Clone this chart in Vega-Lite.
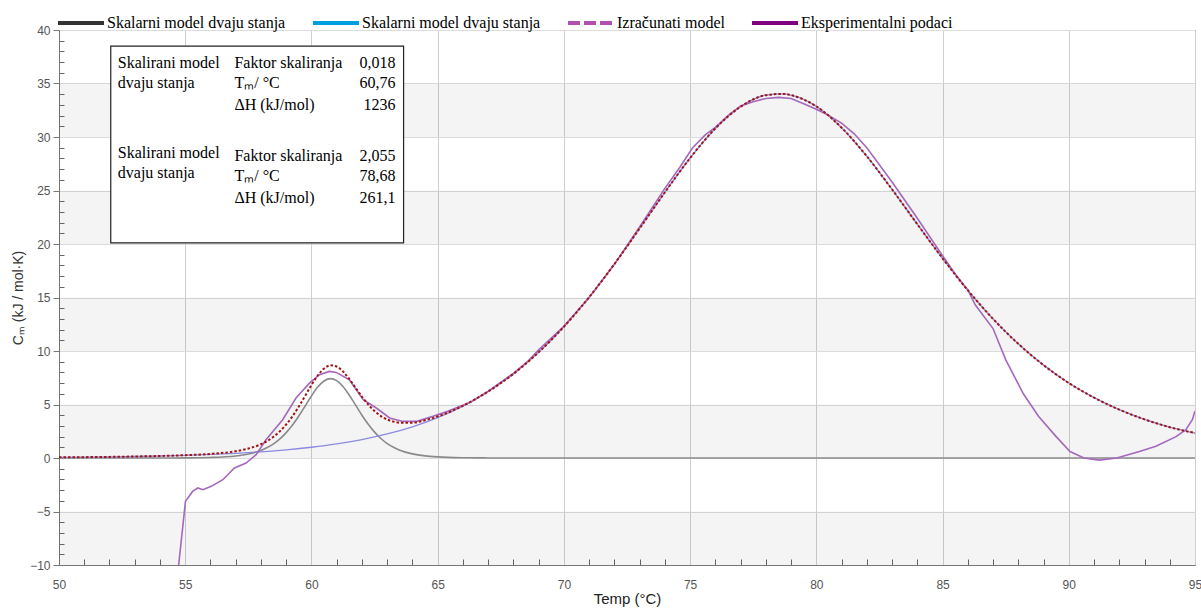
{
  "$schema": "https://vega.github.io/schema/vega-lite/v6.json",
  "width": 1136,
  "height": 535,
  "autosize": {"type": "none"},
  "padding": {"left": 59, "top": 30, "right": 6, "bottom": 43},
  "background": "white",
  "config": {
    "view": {"stroke": "#9a9a9a", "strokeWidth": 1},
    "axis": {"labelFont": "Liberation Sans", "titleFont": "Liberation Sans"}
  },
  "datasets": {
    "bands": [
      {"t": 50, "t2": 95, "c": -10, "c2": -5},
      {"t": 50, "t2": 95, "c": 0, "c2": 5},
      {"t": 50, "t2": 95, "c": 10, "c2": 15},
      {"t": 50, "t2": 95, "c": 20, "c2": 25},
      {"t": 50, "t2": 95, "c": 30, "c2": 35}
    ],
    "box": [{"t": 52.05, "t2": 63.65, "c": 38.5, "c2": 20.1}],
    "labels": [
      {"col": "l", "t": 52.33, "c": 36.92, "label": "Skalirani model"},
      {"col": "l", "t": 52.33, "c": 35.05, "label": "dvaju stanja"},
      {"col": "l", "t": 56.95, "c": 36.92, "label": "Faktor skaliranja"},
      {"col": "l", "t": 56.95, "c": 35.05, "label": "Tₘ/ °C"},
      {"col": "l", "t": 56.95, "c": 33.02, "label": "ΔH (kJ/mol)"},
      {"col": "l", "t": 52.33, "c": 28.5, "label": "Skalirani model"},
      {"col": "l", "t": 52.33, "c": 26.64, "label": "dvaju stanja"},
      {"col": "l", "t": 56.95, "c": 28.18, "label": "Faktor skaliranja"},
      {"col": "l", "t": 56.95, "c": 26.33, "label": "Tₘ/ °C"},
      {"col": "l", "t": 56.95, "c": 24.3, "label": "ΔH (kJ/mol)"},
      {"col": "r", "t": 63.33, "c": 36.92, "label": "0,018"},
      {"col": "r", "t": 63.33, "c": 35.05, "label": "60,76"},
      {"col": "r", "t": 63.33, "c": 33.02, "label": "1236"},
      {"col": "r", "t": 63.33, "c": 28.18, "label": "2,055"},
      {"col": "r", "t": 63.33, "c": 26.33, "label": "78,68"},
      {"col": "r", "t": 63.33, "c": 24.3, "label": "261,1"}
    ],
    "curves": [
      {"s": "model1", "t": 50, "c": 0},
      {"s": "model1", "t": 52, "c": 0},
      {"s": "model1", "t": 54, "c": 0.004},
      {"s": "model1", "t": 55, "c": 0.014},
      {"s": "model1", "t": 56, "c": 0.052},
      {"s": "model1", "t": 57, "c": 0.194},
      {"s": "model1", "t": 57.5, "c": 0.375},
      {"s": "model1", "t": 58, "c": 0.711},
      {"s": "model1", "t": 58.25, "c": 0.978},
      {"s": "model1", "t": 58.5, "c": 1.32},
      {"s": "model1", "t": 58.75, "c": 1.78},
      {"s": "model1", "t": 59, "c": 2.37},
      {"s": "model1", "t": 59.25, "c": 3.08},
      {"s": "model1", "t": 59.5, "c": 3.93},
      {"s": "model1", "t": 59.75, "c": 4.86},
      {"s": "model1", "t": 60, "c": 5.8},
      {"s": "model1", "t": 60.25, "c": 6.63},
      {"s": "model1", "t": 60.5, "c": 7.2},
      {"s": "model1", "t": 60.76, "c": 7.42},
      {"s": "model1", "t": 61, "c": 7.23},
      {"s": "model1", "t": 61.25, "c": 6.68},
      {"s": "model1", "t": 61.5, "c": 5.87},
      {"s": "model1", "t": 61.75, "c": 4.94},
      {"s": "model1", "t": 62, "c": 4.0},
      {"s": "model1", "t": 62.25, "c": 3.15},
      {"s": "model1", "t": 62.5, "c": 2.42},
      {"s": "model1", "t": 62.75, "c": 1.82},
      {"s": "model1", "t": 63, "c": 1.35},
      {"s": "model1", "t": 63.25, "c": 1.0},
      {"s": "model1", "t": 63.5, "c": 0.73},
      {"s": "model1", "t": 64, "c": 0.385},
      {"s": "model1", "t": 64.5, "c": 0.2},
      {"s": "model1", "t": 65, "c": 0.103},
      {"s": "model1", "t": 66, "c": 0.027},
      {"s": "model1", "t": 67, "c": 0.007},
      {"s": "model1", "t": 68, "c": 0},
      {"s": "model1", "t": 70, "c": 0},
      {"s": "model1", "t": 75, "c": 0},
      {"s": "model1", "t": 80, "c": 0},
      {"s": "model1", "t": 85, "c": 0},
      {"s": "model1", "t": 90, "c": 0},
      {"s": "model1", "t": 95, "c": 0},

      {"s": "model2", "t": 50, "c": 0.059},
      {"s": "model2", "t": 51, "c": 0.08},
      {"s": "model2", "t": 52, "c": 0.105},
      {"s": "model2", "t": 53, "c": 0.14},
      {"s": "model2", "t": 54, "c": 0.187},
      {"s": "model2", "t": 55, "c": 0.249},
      {"s": "model2", "t": 56, "c": 0.33},
      {"s": "model2", "t": 57, "c": 0.438},
      {"s": "model2", "t": 58, "c": 0.58},
      {"s": "model2", "t": 59, "c": 0.764},
      {"s": "model2", "t": 60, "c": 1.005},
      {"s": "model2", "t": 61, "c": 1.317},
      {"s": "model2", "t": 62, "c": 1.725},
      {"s": "model2", "t": 63, "c": 2.248},
      {"s": "model2", "t": 64, "c": 2.919},
      {"s": "model2", "t": 65, "c": 3.775},
      {"s": "model2", "t": 66, "c": 4.853},
      {"s": "model2", "t": 67, "c": 6.201},
      {"s": "model2", "t": 68, "c": 7.859},
      {"s": "model2", "t": 69, "c": 9.875},
      {"s": "model2", "t": 70, "c": 12.27},
      {"s": "model2", "t": 71, "c": 15.03},
      {"s": "model2", "t": 72, "c": 18.12},
      {"s": "model2", "t": 73, "c": 21.45},
      {"s": "model2", "t": 74, "c": 24.83},
      {"s": "model2", "t": 75, "c": 28.04},
      {"s": "model2", "t": 76, "c": 30.8},
      {"s": "model2", "t": 77, "c": 32.83},
      {"s": "model2", "t": 78, "c": 33.91},
      {"s": "model2", "t": 78.68, "c": 34.03},
      {"s": "model2", "t": 79, "c": 33.91},
      {"s": "model2", "t": 80, "c": 32.86},
      {"s": "model2", "t": 81, "c": 30.87},
      {"s": "model2", "t": 82, "c": 28.2},
      {"s": "model2", "t": 83, "c": 25.1},
      {"s": "model2", "t": 84, "c": 21.85},
      {"s": "model2", "t": 85, "c": 18.66},
      {"s": "model2", "t": 86, "c": 15.68},
      {"s": "model2", "t": 87, "c": 13.0},
      {"s": "model2", "t": 88, "c": 10.67},
      {"s": "model2", "t": 89, "c": 8.68},
      {"s": "model2", "t": 90, "c": 7.01},
      {"s": "model2", "t": 91, "c": 5.64},
      {"s": "model2", "t": 92, "c": 4.52},
      {"s": "model2", "t": 93, "c": 3.61},
      {"s": "model2", "t": 94, "c": 2.88},
      {"s": "model2", "t": 95, "c": 2.33},

      {"s": "calc", "t": 50, "c": 0.06},
      {"s": "calc", "t": 51, "c": 0.08},
      {"s": "calc", "t": 52, "c": 0.105},
      {"s": "calc", "t": 53, "c": 0.14},
      {"s": "calc", "t": 54, "c": 0.19},
      {"s": "calc", "t": 55, "c": 0.263},
      {"s": "calc", "t": 56, "c": 0.382},
      {"s": "calc", "t": 57, "c": 0.632},
      {"s": "calc", "t": 57.5, "c": 0.88},
      {"s": "calc", "t": 58, "c": 1.29},
      {"s": "calc", "t": 58.25, "c": 1.6},
      {"s": "calc", "t": 58.5, "c": 1.99},
      {"s": "calc", "t": 58.75, "c": 2.5},
      {"s": "calc", "t": 59, "c": 3.13},
      {"s": "calc", "t": 59.25, "c": 3.9},
      {"s": "calc", "t": 59.5, "c": 4.81},
      {"s": "calc", "t": 59.75, "c": 5.8},
      {"s": "calc", "t": 60, "c": 6.81},
      {"s": "calc", "t": 60.25, "c": 7.71},
      {"s": "calc", "t": 60.5, "c": 8.36},
      {"s": "calc", "t": 60.76, "c": 8.66},
      {"s": "calc", "t": 61, "c": 8.55},
      {"s": "calc", "t": 61.25, "c": 8.09},
      {"s": "calc", "t": 61.5, "c": 7.38},
      {"s": "calc", "t": 61.75, "c": 6.56},
      {"s": "calc", "t": 62, "c": 5.73},
      {"s": "calc", "t": 62.25, "c": 5.0},
      {"s": "calc", "t": 62.5, "c": 4.39},
      {"s": "calc", "t": 62.75, "c": 3.92},
      {"s": "calc", "t": 63, "c": 3.6},
      {"s": "calc", "t": 63.25, "c": 3.4},
      {"s": "calc", "t": 63.5, "c": 3.3},
      {"s": "calc", "t": 64, "c": 3.3},
      {"s": "calc", "t": 64.5, "c": 3.53},
      {"s": "calc", "t": 65, "c": 3.88},
      {"s": "calc", "t": 66, "c": 4.88},
      {"s": "calc", "t": 67, "c": 6.21},
      {"s": "calc", "t": 68, "c": 7.86},
      {"s": "calc", "t": 69, "c": 9.88},
      {"s": "calc", "t": 70, "c": 12.27},
      {"s": "calc", "t": 71, "c": 15.03},
      {"s": "calc", "t": 72, "c": 18.12},
      {"s": "calc", "t": 73, "c": 21.45},
      {"s": "calc", "t": 74, "c": 24.83},
      {"s": "calc", "t": 75, "c": 28.04},
      {"s": "calc", "t": 76, "c": 30.8},
      {"s": "calc", "t": 77, "c": 32.83},
      {"s": "calc", "t": 78, "c": 33.91},
      {"s": "calc", "t": 78.68, "c": 34.03},
      {"s": "calc", "t": 79, "c": 33.91},
      {"s": "calc", "t": 80, "c": 32.86},
      {"s": "calc", "t": 81, "c": 30.87},
      {"s": "calc", "t": 82, "c": 28.2},
      {"s": "calc", "t": 83, "c": 25.1},
      {"s": "calc", "t": 84, "c": 21.85},
      {"s": "calc", "t": 85, "c": 18.66},
      {"s": "calc", "t": 86, "c": 15.68},
      {"s": "calc", "t": 87, "c": 13.0},
      {"s": "calc", "t": 88, "c": 10.67},
      {"s": "calc", "t": 89, "c": 8.68},
      {"s": "calc", "t": 90, "c": 7.01},
      {"s": "calc", "t": 91, "c": 5.64},
      {"s": "calc", "t": 92, "c": 4.52},
      {"s": "calc", "t": 93, "c": 3.61},
      {"s": "calc", "t": 94, "c": 2.88},
      {"s": "calc", "t": 95, "c": 2.33},

      {"s": "exp", "t": 54.6, "c": -13},
      {"s": "exp", "t": 54.74, "c": -10},
      {"s": "exp", "t": 55.01, "c": -4.05},
      {"s": "exp", "t": 55.3, "c": -3.1},
      {"s": "exp", "t": 55.5, "c": -2.8},
      {"s": "exp", "t": 55.7, "c": -2.96},
      {"s": "exp", "t": 56.03, "c": -2.65},
      {"s": "exp", "t": 56.49, "c": -2.03},
      {"s": "exp", "t": 56.95, "c": -0.93},
      {"s": "exp", "t": 57.41, "c": -0.47},
      {"s": "exp", "t": 57.81, "c": 0.31},
      {"s": "exp", "t": 58.2, "c": 1.71},
      {"s": "exp", "t": 58.86, "c": 3.58},
      {"s": "exp", "t": 59.39, "c": 5.6},
      {"s": "exp", "t": 59.92, "c": 7.0},
      {"s": "exp", "t": 60.32, "c": 7.79},
      {"s": "exp", "t": 60.71, "c": 8.09},
      {"s": "exp", "t": 60.98, "c": 8.0},
      {"s": "exp", "t": 61.5, "c": 7.32},
      {"s": "exp", "t": 62.05, "c": 5.45},
      {"s": "exp", "t": 62.57, "c": 4.67},
      {"s": "exp", "t": 63.1, "c": 3.74},
      {"s": "exp", "t": 63.62, "c": 3.42},
      {"s": "exp", "t": 64.15, "c": 3.42},
      {"s": "exp", "t": 64.81, "c": 3.89},
      {"s": "exp", "t": 65.4, "c": 4.36},
      {"s": "exp", "t": 65.8, "c": 4.75},
      {"s": "exp", "t": 66.3, "c": 5.2},
      {"s": "exp", "t": 67, "c": 6.25},
      {"s": "exp", "t": 68, "c": 7.9},
      {"s": "exp", "t": 68.6, "c": 9.1},
      {"s": "exp", "t": 69, "c": 10.1},
      {"s": "exp", "t": 70, "c": 12.3},
      {"s": "exp", "t": 71, "c": 15.0},
      {"s": "exp", "t": 72, "c": 18.1},
      {"s": "exp", "t": 73, "c": 21.6},
      {"s": "exp", "t": 73.5, "c": 23.4},
      {"s": "exp", "t": 74, "c": 25.2},
      {"s": "exp", "t": 74.6, "c": 27.2},
      {"s": "exp", "t": 75.1, "c": 29.0},
      {"s": "exp", "t": 75.6, "c": 30.2},
      {"s": "exp", "t": 76, "c": 30.9},
      {"s": "exp", "t": 76.5, "c": 32.0},
      {"s": "exp", "t": 77, "c": 32.9},
      {"s": "exp", "t": 77.5, "c": 33.3},
      {"s": "exp", "t": 78, "c": 33.6},
      {"s": "exp", "t": 78.5, "c": 33.7},
      {"s": "exp", "t": 79, "c": 33.6},
      {"s": "exp", "t": 79.5, "c": 33.1},
      {"s": "exp", "t": 80, "c": 32.6},
      {"s": "exp", "t": 80.5, "c": 32.0},
      {"s": "exp", "t": 81, "c": 31.3},
      {"s": "exp", "t": 81.5, "c": 30.3},
      {"s": "exp", "t": 82, "c": 29.0},
      {"s": "exp", "t": 83, "c": 25.8},
      {"s": "exp", "t": 84, "c": 22.4},
      {"s": "exp", "t": 85, "c": 18.9},
      {"s": "exp", "t": 85.5, "c": 17.2},
      {"s": "exp", "t": 86, "c": 15.7},
      {"s": "exp", "t": 86.3, "c": 14.3},
      {"s": "exp", "t": 87, "c": 12.1},
      {"s": "exp", "t": 87.5, "c": 9.2},
      {"s": "exp", "t": 88.2, "c": 6.0},
      {"s": "exp", "t": 88.8, "c": 3.9},
      {"s": "exp", "t": 89.5, "c": 2.0},
      {"s": "exp", "t": 90.05, "c": 0.6},
      {"s": "exp", "t": 90.6, "c": 0.0},
      {"s": "exp", "t": 91.2, "c": -0.2},
      {"s": "exp", "t": 91.9, "c": 0.0},
      {"s": "exp", "t": 92.8, "c": 0.6},
      {"s": "exp", "t": 93.45, "c": 1.1},
      {"s": "exp", "t": 94.25, "c": 2.0},
      {"s": "exp", "t": 94.64, "c": 2.65},
      {"s": "exp", "t": 94.9, "c": 3.6},
      {"s": "exp", "t": 95, "c": 4.4}
    ]
  },
  "encoding": {
    "x": {"field": "t", "type": "quantitative", "scale": {"domain": [50, 95], "nice": false, "zero": false}, "axis": null},
    "y": {"field": "c", "type": "quantitative", "scale": {"domain": [-10, 40], "nice": false, "zero": false}, "axis": null}
  },
  "layer": [
    {
      "data": {"name": "bands"},
      "mark": {"type": "rect", "fill": "#000000", "opacity": 0.045},
      "encoding": {"x2": {"field": "t2"}, "y2": {"field": "c2"}}
    },
    {
      "data": {"name": "curves"},
      "transform": [{"filter": "datum.s === 'model1'"}],
      "mark": {"type": "line", "stroke": "#8a8a8a", "strokeWidth": 1.6, "interpolate": "monotone"},
      "encoding": {
        "x": {"field": "t", "type": "quantitative", "scale": {"domain": [50, 95], "nice": false, "zero": false},
          "axis": {"orient": "bottom", "offset": -6, "values": [51,52,53,54,56,57,58,59,61,62,63,64,66,67,68,69,71,72,73,74,76,77,78,79,81,82,83,84,86,87,88,89,91,92,93,94],
            "labels": false, "domain": false, "grid": false, "ticks": true, "tickSize": 6, "tickColor": "#666666", "tickWidth": 1, "title": null}},
        "y": {"field": "c", "type": "quantitative", "scale": {"domain": [-10, 40], "nice": false, "zero": false},
          "axis": {"orient": "left", "offset": -5, "values": [-9,-8,-7,-6,-4,-3,-2,-1,1,2,3,4,6,7,8,9,11,12,13,14,16,17,18,19,21,22,23,24,26,27,28,29,31,32,33,34,36,37,38,39],
            "labels": false, "domain": false, "grid": false, "ticks": true, "tickSize": 5, "tickColor": "#666666", "tickWidth": 1, "title": null}}
      }
    },
    {
      "data": {"name": "curves"},
      "transform": [{"filter": "datum.s === 'model2'"}],
      "mark": {"type": "line", "stroke": "#8a8ae0", "strokeWidth": 1.3, "interpolate": "monotone"}
    },
    {
      "data": {"name": "curves"},
      "transform": [{"filter": "datum.s === 'exp'"}],
      "mark": {"type": "line", "stroke": "#a468bc", "strokeWidth": 1.6, "clip": true},
      "encoding": {
        "x": {"field": "t", "type": "quantitative", "scale": {"domain": [50, 95], "nice": false, "zero": false},
          "axis": {"orient": "bottom", "values": [50,55,60,65,70,75,80,85,90,95], "grid": true, "gridColor": "#cfcfcf", "ticks": false,
            "domainColor": "#777777", "labelFontSize": 12, "labelColor": "#555555", "labelPadding": 14, "labelFlush": false,
            "title": "Temp (°C)", "titleFontSize": 15, "titleFontWeight": "normal", "titleColor": "#222222", "titlePadding": 1}},
        "y": {"field": "c", "type": "quantitative", "scale": {"domain": [-10, 40], "nice": false, "zero": false},
          "axis": {"orient": "left", "values": [-10,-5,0,5,10,15,20,25,30,35,40], "grid": true, "gridColor": "#dcdcdc", "tickSize": 6,
            "tickColor": "#777777", "domainColor": "#777777", "labelFontSize": 12, "labelColor": "#555555", "labelPadding": 3,
            "title": "Cₘ (kJ / mol·K)", "titleFontSize": 14, "titleFontWeight": "normal", "titleColor": "#333333", "titlePadding": 4}}
      }
    },
    {
      "data": {"name": "curves"},
      "transform": [{"filter": "datum.s === 'calc'"}],
      "mark": {"type": "line", "stroke": "#a31515", "strokeWidth": 2, "strokeDash": [2.5, 2], "interpolate": "monotone"}
    },
    {
      "data": {"name": "box"},
      "mark": {"type": "rect", "fill": "white", "stroke": "#222222", "strokeWidth": 1.2},
      "encoding": {"x2": {"field": "t2"}, "y2": {"field": "c2"}}
    },
    {
      "data": {"name": "labels"},
      "transform": [{"filter": "datum.col === 'l'"}],
      "mark": {"type": "text", "align": "left", "baseline": "middle", "font": "Liberation Serif", "fontSize": 16, "color": "#000000"},
      "encoding": {"text": {"field": "label"}}
    },
    {
      "data": {"name": "labels"},
      "transform": [{"filter": "datum.col === 'r'"}],
      "mark": {"type": "text", "align": "right", "baseline": "middle", "font": "Liberation Serif", "fontSize": 16, "color": "#000000"},
      "encoding": {"text": {"field": "label"}}
    },
    {
      "data": {"name": "curves"},
      "mark": {"type": "line", "opacity": 0},
      "encoding": {
        "color": {"field": "s", "type": "nominal",
          "scale": {"domain": ["model1", "model2", "calc", "exp"], "range": ["#333333", "#00a0e0", "#b050b0", "#800080"]},
          "legend": {"orient": "none", "legendX": -3, "legendY": -32, "direction": "horizontal", "title": null,
            "symbolType": "stroke", "symbolStrokeWidth": 4, "symbolSize": 2116, "symbolOpacity": 1,
            "labelFont": "Liberation Serif", "labelFontSize": 16, "labelColor": "#000000", "labelOffset": 1, "columnPadding": 19, "labelLimit": 0,
            "labelExpr": "datum.label === 'calc' ? 'Izračunati model' : datum.label === 'exp' ? 'Eksperimentalni podaci' : 'Skalarni model dvaju stanja'"}},
        "strokeDash": {"field": "s", "type": "nominal",
          "scale": {"domain": ["model1", "model2", "calc", "exp"], "range": [[1, 0], [1, 0], [12, 4], [1, 0]]},
          "legend": {"orient": "none", "legendX": -3, "legendY": -32, "direction": "horizontal", "title": null,
            "symbolType": "stroke", "symbolStrokeWidth": 4, "symbolSize": 2116, "symbolOpacity": 1,
            "labelFont": "Liberation Serif", "labelFontSize": 16, "labelColor": "#000000", "labelOffset": 1, "columnPadding": 19, "labelLimit": 0,
            "labelExpr": "datum.label === 'calc' ? 'Izračunati model' : datum.label === 'exp' ? 'Eksperimentalni podaci' : 'Skalarni model dvaju stanja'"}}
      }
    }
  ],
  "resolve": {"axis": {"x": "independent", "y": "independent"}}
}
